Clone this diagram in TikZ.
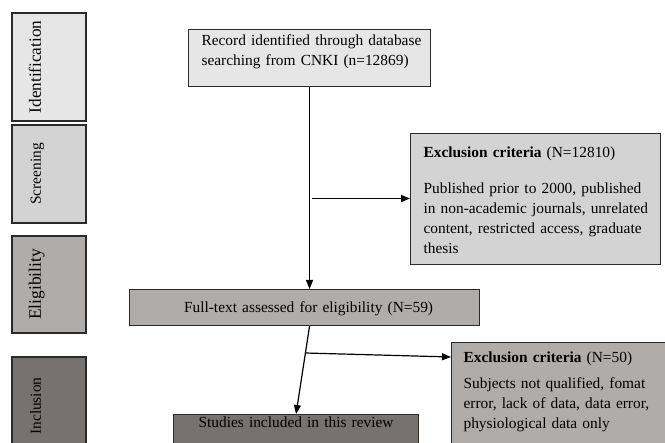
\documentclass[tikz,border=0pt]{standalone}
\usepackage{fontspec}
\setmainfont{Liberation Serif}
\usetikzlibrary{arrows.meta,calc}

\definecolor{idgray}{HTML}{E6E6E6}
\definecolor{scrgray}{HTML}{D3D3D3}
\definecolor{elgray}{HTML}{B0ACAA}
\definecolor{incgray}{HTML}{77716F}
\definecolor{edgegray}{HTML}{2A2A2A}

\tikzset{
  box/.style={draw=edgegray, line width=1.1pt, anchor=north west, inner sep=0pt,
    font=\fontsize{15.4}{20}\selectfont},
  padded/.style={align=left, execute at begin node={\leftskip=#1}},
  stagebox/.style={draw=edgegray, line width=1.1pt, inner sep=0pt, rotate=90,
    minimum height=74pt, text height=10pt, text depth=26pt,
    font=\fontsize{15.4}{20}\selectfont},
  flow/.style={line width=1.2pt, -{Triangle[length=9pt,width=7pt]}},
}

\begin{document}
\begin{tikzpicture}[x=1pt,y=-1pt]
\useasboundingbox (0,0) rectangle (665,443);
\clip (0,0) rectangle (665,443);

\node[stagebox, fill=idgray, minimum width=108pt, font=\fontsize{17.2}{20}\selectfont]
  (ident) at (49,67) {Identification};
\node[stagebox, fill=scrgray, minimum width=98pt] (screen) at (49,174) {Screening};
\node[stagebox, fill=elgray, minimum width=97pt, font=\fontsize{17.5}{20}\selectfont]
  (elig) at (49,284.5) {Eligibility};
\node[stagebox, fill=incgray, minimum width=98pt] (incl) at (49,406) {Inclusion};

\node[box, fill=idgray, padded=13pt, text width=242pt, text height=16pt, text depth=41pt]
  (rec) at (188,29) {Record identified through database\\searching from CNKI (n=12869)};
\node[box, fill=scrgray, padded=13pt, text width=250pt, text height=24pt, text depth=107pt]
  (ex1) at (410,133) {\textbf{Exclusion criteria} (N=12810)\\[16pt]
  Published prior to 2000, published\\in non-academic journals, unrelated\\
  content, restricted access, graduate\\thesis};
\node[box, fill=elgray, align=center, text width=350pt, text height=23pt, text depth=13pt]
  (full) at (129,289) {\hspace*{8pt}Full-text assessed for eligibility (N=59)};
\node[box, fill=elgray, padded=12pt, text width=225pt, text height=20pt, text depth=110pt]
  (ex2) at (451,342) {\textbf{Exclusion criteria} (N=50)\\[6pt]
  Subjects not qualified, fomat\\error, lack of data, data error,\\physiological data only};
\node[box, fill=incgray, align=center, text width=245pt, text height=13pt, text depth=30pt]
  (stud) at (173,414) {Studies included in this review};

\coordinate (b1) at (312,198.5);
\coordinate (f1) at (rec.south |- full.south);
\coordinate (b2) at (305,353);

\draw[flow] (rec.south) -- (rec.south |- full.north);
\draw[flow] (b1) -- (b1 -| ex1.west);
\draw[flow] (f1) -- (stud.north);
\draw[flow] (b2) -- ($(ex2.north west)+(0,15)$);
\end{tikzpicture}
\end{document}
